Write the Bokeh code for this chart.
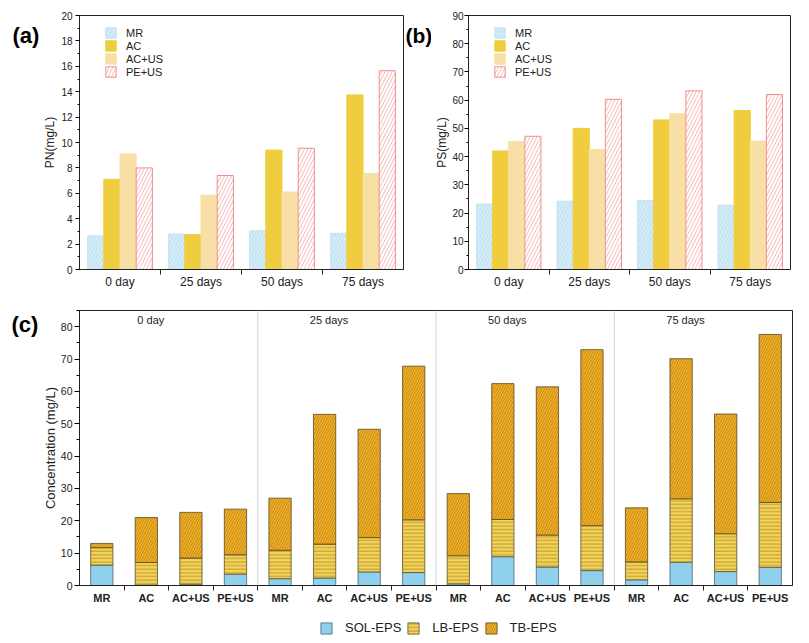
import numpy as np
from bokeh.plotting import figure
from bokeh.layouts import column, row
from bokeh.models import (Range1d, FixedTicker, SingleIntervalTicker, Legend, LegendItem,
                          Label, Span, ColumnDataSource)
from bokeh.embed import file_html
from bokeh.resources import INLINE

FONT = "Liberation Sans"

days = ["0 day", "25 days", "50 days", "75 days"]
groups = ["MR", "AC", "AC+US", "PE+US"]

pn_MR = [2.65, 2.8, 3.05, 2.85]
pn_AC = [7.1, 2.75, 9.4, 13.75]
pn_ACUS = [9.1, 5.85, 6.1, 7.55]
pn_PEUS = [8.0, 7.4, 9.55, 15.65]

ps_MR = [23.2, 24.2, 24.4, 22.8]
ps_AC = [42.0, 50.0, 53.0, 56.3]
ps_ACUS = [45.3, 42.5, 55.2, 45.5]
ps_PEUS = [47.2, 60.3, 63.3, 62.0]

# panel (c): order per day MR, AC, AC+US, PE+US
sol_eps = [6.3, 0.15, 0.4, 3.5, 2.1, 2.3, 4.2, 4.0, 0.5, 8.9, 5.7, 4.6, 1.75, 7.2, 4.3, 5.6]
lb_eps = [5.4, 6.95, 8.1, 6.0, 8.8, 10.5, 10.6, 16.3, 8.7, 11.5, 9.9, 13.9, 5.55, 19.6, 11.7, 20.1]
tb_eps = [1.3, 13.9, 14.1, 14.1, 16.1, 40.1, 33.5, 47.5, 19.2, 42.0, 45.8, 54.4, 16.7, 43.3, 37.0, 51.9]
eps_names = ["SOL-EPS", "LB-EPS", "TB-EPS"]

TXT = "#222222"

styles = [
    dict(fill_color="#d6ecf8", line_color="#c4e2f4", hatch_pattern="/", hatch_color="#b4d9ef",
         hatch_scale=7, hatch_weight=0.8),
    dict(fill_color="#f0cd3e", line_color="#f0cd3e"),
    dict(fill_color="#f7dfa6", line_color="#f7dfa6"),
    dict(fill_color="white", line_color="#ef8f8f", hatch_pattern="/", hatch_color="#f2a5a5",
         hatch_scale=7, hatch_weight=0.8),
]

eps_styles = [
    dict(fill_color="#8fd0ec", line_color="#4d6470"),
    dict(fill_color="#f6d352", line_color="#5a5030", hatch_pattern="-", hatch_color="#7a6a30",
         hatch_scale=3.6, hatch_weight=0.55),
    dict(fill_color="#f5b224", line_color="#5a4a25", hatch_pattern="/", hatch_color="#7a5412",
         hatch_scale=5, hatch_weight=0.45),
]


def blank_fig(w, h):
    p = figure(width=w, height=h, output_backend="svg", toolbar_location=None,
               x_range=Range1d(0, w), y_range=Range1d(0, h),
               min_border_left=0, min_border_right=0, min_border_top=0, min_border_bottom=0,
               x_axis_type=None, y_axis_type=None, outline_line_color=None)
    return p


def tag_fig(w, h, text, x, y_top, size):
    p = blank_fig(w, h)
    p.add_layout(Label(x=x, y=h - y_top, text=text, text_font=FONT, text_font_size=size,
                       text_font_style="bold", text_color="black", text_align="left",
                       text_baseline="middle"))
    return p


def style_common(p):
    p.xgrid.visible = False
    p.ygrid.visible = False
    p.outline_line_color = "#222222"
    p.outline_line_width = 1
    for ax in (p.xaxis[0], p.yaxis[0]):
        ax.axis_line_color = "#222222"
        ax.axis_line_width = 1
        ax.major_label_text_font = FONT
        ax.major_label_text_color = TXT
        ax.axis_label_text_font = FONT
        ax.axis_label_text_font_style = "normal"
        ax.axis_label_text_color = TXT


def panel_ab(series, ymax, yint, ylabel, width, bl, br, fh, lab_stand, tick_stand, leg_dy):
    H = 300
    bt = 15
    p = figure(width=width, height=H, output_backend="svg", toolbar_location=None,
               x_range=Range1d(0.5, 4.5), y_range=Range1d(0, ymax),
               min_border_left=bl, min_border_right=br, min_border_top=bt,
               min_border_bottom=H - bt - fh)
    style_common(p)
    base = np.arange(1, len(days) + 1)
    offs = [-0.3, -0.1, 0.1, 0.3]
    items = []
    for vals, name, off, st in zip(series, groups, offs, styles):
        src = ColumnDataSource(dict(x=base + off, top=vals))
        r = p.vbar(x="x", top="top", width=0.2, bottom=0, source=src, line_width=1, **st)
        items.append(LegendItem(label=name, renderers=[r]))
    leg = Legend(items=items, location=(25, fh - 13 - 54 + leg_dy), padding=0, margin=0,
                 spacing=0, glyph_width=13, glyph_height=13, label_height=13, label_standoff=9,
                 label_text_font=FONT, label_text_font_size="11px", label_text_color=TXT,
                 border_line_color=None, background_fill_alpha=0)
    p.add_layout(leg, "center")
    xa = p.xaxis[0]
    xa.ticker = FixedTicker(ticks=list(base), minor_ticks=list(base[:-1] + 0.5))
    xa.major_label_overrides = {int(b): d for b, d in zip(base, days)}
    xa.major_tick_line_color = None
    xa.major_tick_out = 0
    xa.major_tick_in = 0
    xa.minor_tick_line_color = "#222222"
    xa.minor_tick_out = 5
    xa.minor_tick_in = 0
    xa.major_label_standoff = 0
    xa.major_label_text_font_size = "12px"
    ya = p.yaxis[0]
    ya.ticker = SingleIntervalTicker(interval=yint, num_minor_ticks=2)
    ya.major_tick_out = 4
    ya.major_tick_in = 0
    ya.minor_tick_out = 2
    ya.minor_tick_in = 0
    ya.major_label_standoff = tick_stand
    ya.major_label_text_font_size = "10px"
    ya.axis_label = ylabel
    ya.axis_label_text_font_size = "12px"
    ya.axis_label_standoff = lab_stand
    return p


tag_a = tag_fig(40, 300, "(a)", 12, 24, "22px")
pa = panel_ab([pn_MR, pn_AC, pn_ACUS, pn_PEUS], 20, 2, "PN(mg/L)", 364, 39, 1, 256, 1, 3, 2)
tag_b = tag_fig(27, 300, "(b)", 1, 24, "21px")
pb = panel_ab([ps_MR, ps_AC, ps_ACUS, ps_PEUS], 90, 10, "PS(mg/L)", 375, 37, 16, 254, 0, 1, 4)

# panel (c)
n = len(sol_eps)
xs = np.arange(n) + 0.5
src = ColumnDataSource(dict(x=xs, sol=sol_eps, lb=lb_eps, tb=tb_eps))
pc = figure(width=767, height=307, output_backend="svg", toolbar_location=None,
            x_range=Range1d(0, n), y_range=Range1d(0, 85),
            min_border_left=40, min_border_right=14, min_border_top=10, min_border_bottom=22)
style_common(pc)
for k in range(1, len(days)):
    pc.add_layout(Span(location=k * len(groups), dimension="height", line_color="#d4d4d4",
                       line_width=1))
stack_bottom = np.zeros(n)
for col_name, st in zip(["sol", "lb", "tb"], eps_styles):
    vals = np.array(src.data[col_name])
    pc.vbar(x=xs, bottom=stack_bottom.copy(), top=stack_bottom + vals, width=0.5,
            line_width=0.8, **st)
    stack_bottom = stack_bottom + vals
for i, d in enumerate(days):
    pc.add_layout(Label(x=i * len(groups) + 1.6, y=82, text=d, text_font=FONT,
                        text_font_size="11px", text_color=TXT, text_align="center",
                        text_baseline="middle"))
xa = pc.xaxis[0]
xa.ticker = FixedTicker(ticks=list(xs), minor_ticks=list(np.arange(1, n)))
xa.major_label_overrides = {float(x): groups[i % len(groups)] for i, x in enumerate(xs)}
xa.major_tick_line_color = None
xa.major_tick_out = 0
xa.major_tick_in = 0
xa.minor_tick_line_color = "#222222"
xa.minor_tick_out = 5
xa.minor_tick_in = 0
xa.major_label_standoff = 1
xa.major_label_text_font_size = "11px"
xa.major_label_text_font_style = "bold"
ya = pc.yaxis[0]
ya.ticker = SingleIntervalTicker(interval=10, num_minor_ticks=2)
ya.major_tick_out = 5
ya.major_tick_in = 0
ya.minor_tick_out = 3
ya.minor_tick_in = 0
ya.major_label_standoff = 2
ya.major_label_text_font_size = "10.5px"
ya.axis_label = "Concentration (mg/L)"
ya.axis_label_text_font_size = "13px"
ya.axis_label_standoff = 0

tag_c = tag_fig(39, 307, "(c)", 11, 16, "22px")

# legend strip below panel (c); the dummy glyphs lie outside the visible range
lf = blank_fig(806, 34)
leg_items = []
for name, st in zip(eps_names, eps_styles):
    r = lf.vbar(x=[-10], bottom=[0], top=[0], width=0.5, line_width=0.8, **st)
    leg_items.append(LegendItem(label=name, renderers=[r]))
leg_c = Legend(items=leg_items, location=(319, 6), orientation="horizontal", padding=0, margin=0,
               spacing=5, glyph_width=14, glyph_height=14, label_height=14, label_standoff=12,
               label_text_font=FONT, label_text_font_size="13px", label_text_color=TXT,
               border_line_color=None, background_fill_alpha=0)
lf.add_layout(leg_c, "center")

layout = column(row(tag_a, pa, tag_b, pb), row(tag_c, pc), lf)
open("out.html", "w").write(file_html(layout, INLINE))
